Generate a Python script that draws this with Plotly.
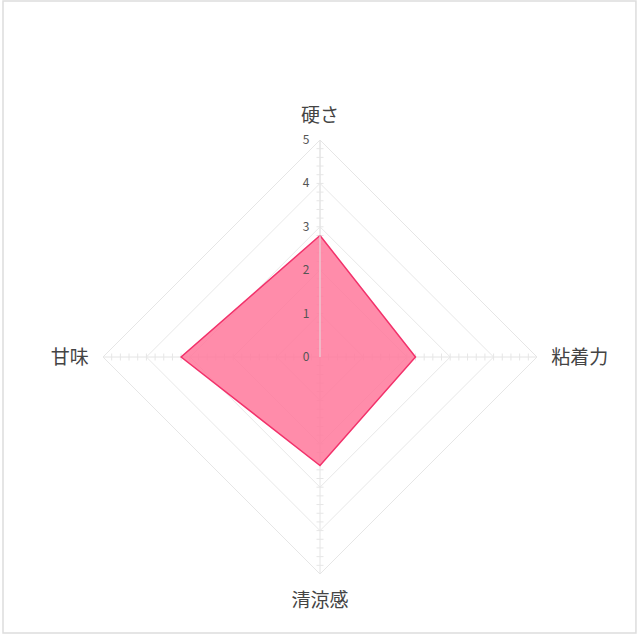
import plotly.graph_objects as go

categories = ["硬さ", "粘着力", "清涼感", "甘味"]
values = [2.8, 2.2, 2.5, 3.2]
radial_ticks = [0, 1, 2, 3, 4, 5]
minor_ticks = [i / 5 for i in range(1, 25)]

FONT = "Noto Sans CJK JP"

fig = go.Figure()

# small tick marks along every spoke
for cat in categories:
    sym = "line-ew" if cat in ("硬さ", "清涼感") else "line-ns"
    fig.add_trace(go.Scatterpolar(
        r=minor_ticks,
        theta=[cat] * len(minor_ticks),
        mode="markers",
        marker=dict(symbol=sym, size=5, line=dict(color="#e6e6e6", width=1)),
        hoverinfo="skip",
    ))

fig.add_trace(go.Scatterpolar(
    r=values + values[:1],
    theta=categories + categories[:1],
    mode="lines",
    fill="toself",
    fillcolor="rgba(255,120,155,0.85)",
    line=dict(color="#f2326b", width=1.5),
    hoverinfo="skip",
))

fig.update_layout(
    width=640, height=640,
    paper_bgcolor="white",
    margin=dict(l=103, r=103, t=140, b=66),
    showlegend=False,
    font=dict(family=FONT),
    polar=dict(
        bgcolor="white",
        gridshape="linear",
        angularaxis=dict(
            rotation=90,
            direction="clockwise",
            tickfont=dict(size=19, color="#444"),
            showline=True,
            linecolor="#e6e6e6",
            gridcolor="#e4e4e4",
            ticks="outside",
            ticklen=10,
            tickcolor="rgba(0,0,0,0)",
        ),
        radialaxis=dict(
            range=[0, 5],
            tickvals=radial_ticks,
            angle=90,
            tickangle=90,
            side="counterclockwise",
            tickfont=dict(size=12, color="#555"),
            showline=True,
            linecolor="#e4e4e4",
            gridcolor="#e8e8e8",
            ticks="outside",
            ticklen=6,
            tickcolor="rgba(0,0,0,0)",
        ),
    ),
    shapes=[dict(
        type="rect", xref="paper", yref="paper",
        x0=-0.2304, x1=1.228, y0=-0.136, y1=1.320,
        line=dict(color="#dddddd", width=1.5),
        layer="below",
    )],
)

fig.write_html("out.html", config={"displayModeBar": False},
               post_script="document.body.style.margin='0';")
